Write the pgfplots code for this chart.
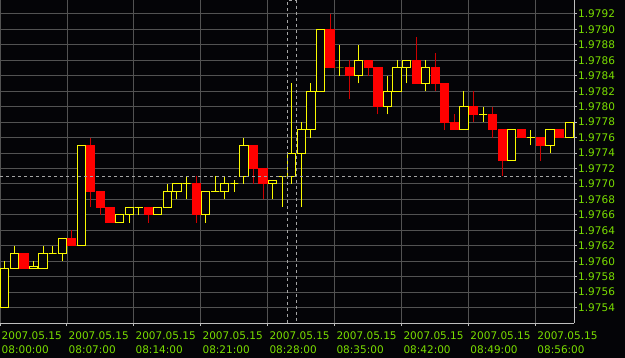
\documentclass[border=0pt]{standalone}
\usepackage{pgfplots}
\pgfplotsset{compat=1.18}
\usepackage{fontspec}
\setmainfont{DejaVu Sans}
\definecolor{cup}{RGB}{250,250,0}
\definecolor{cdn}{RGB}{255,0,0}
\definecolor{cwick}{RGB}{205,0,0}
\definecolor{gridgray}{RGB}{82,82,82}
\definecolor{axisgray}{RGB}{190,190,190}
\definecolor{lblgreen}{RGB}{122,222,0}
\definecolor{crossgray}{RGB}{165,165,165}
\definecolor{bg}{RGB}{4,4,7}
% #1 x, #2 open, #3 high, #4 low, #5 close
\newcommand\cu[5]{%
  \pgfmathsetmacro\xa{#1-0.43}\pgfmathsetmacro\xb{#1+0.43}%
  \edef\tmp{\noexpand\addplot[draw=cup, line width=1bp] coordinates {(#1,#4) (#1,#3)};%
    \noexpand\addplot[draw=cup, fill=bg, line width=1bp] coordinates {(\xa,#2) (\xb,#2) (\xb,#5) (\xa,#5)} -- cycle;}%
  \tmp}
\newcommand\cd[5]{%
  \pgfmathsetmacro\xa{#1-0.43}\pgfmathsetmacro\xb{#1+0.43}%
  \edef\tmp{\noexpand\addplot[draw=cwick, line width=1bp] coordinates {(#1,#4) (#1,#3)};%
    \noexpand\addplot[draw=cdn, fill=cdn, line width=1bp] coordinates {(\xa,#2) (\xb,#2) (\xb,#5) (\xa,#5)} -- cycle;}%
  \tmp}
\begin{document}
\begin{tikzpicture}
\fill[bg] (0bp,-35bp) rectangle (625bp,323bp);
\useasboundingbox (0bp,-35bp) rectangle (625bp,323bp);
\begin{axis}[
  at={(0bp,0bp)}, anchor=south west,
  scale only axis, width=574bp, height=323bp,
  xmin=-0.5, xmax=59.5, ymin=1.97520, ymax=1.97938,
  axis x line*=bottom, axis y line*=right,
  axis line style={draw=axisgray, line width=1bp},
  xtick={-0.5,6.5,13.5,20.5,27.5,34.5,41.5,48.5,55.5},
  xticklabels={{2007.05.15\\08:00:00},{2007.05.15\\08:07:00},{2007.05.15\\08:14:00},{2007.05.15\\08:21:00},{2007.05.15\\08:28:00},{2007.05.15\\08:35:00},{2007.05.15\\08:42:00},{2007.05.15\\08:49:00},{2007.05.15\\08:56:00}},
  ytick={1.9754,1.9756,1.9758,1.9760,1.9762,1.9764,1.9766,1.9768,1.9770,1.9772,1.9774,1.9776,1.9778,1.9780,1.9782,1.9784,1.9786,1.9788,1.9790,1.9792},
  yticklabels={1.9754,1.9756,1.9758,1.9760,1.9762,1.9764,1.9766,1.9768,1.9770,1.9772,1.9774,1.9776,1.9778,1.9780,1.9782,1.9784,1.9786,1.9788,1.9790,1.9792},
  tick align=outside, major tick length=3bp,
  tick style={draw=axisgray, line width=1bp},
  grid=major, major grid style={draw=gridgray, line width=0.9bp},
  ticklabel style={font=\fontsize{10.5bp}{13.3bp}\selectfont, text=lblgreen},
  xticklabel style={anchor=north west, align=left, inner sep=0pt, xshift=1.5bp, yshift=-6bp},
  yticklabel style={anchor=west, inner sep=0pt, xshift=1bp},
  clip=true,
]
\cu{0}{1.9754}{1.9760}{1.9754}{1.9759}
\cu{1}{1.9759}{1.9762}{1.9759}{1.9761}
\cd{2}{1.9761}{1.9761}{1.9759}{1.9759}
\cu{3}{1.9759}{1.9760}{1.9759}{1.97593}
\cu{4}{1.9759}{1.9762}{1.9759}{1.9761}
\cu{5}{1.9761}{1.9762}{1.9761}{1.9761}
\cu{6}{1.9761}{1.9763}{1.9760}{1.9763}
\cd{7}{1.9763}{1.9764}{1.9762}{1.9762}
\cu{8}{1.9762}{1.9775}{1.9762}{1.9775}
\cd{9}{1.9775}{1.9776}{1.9767}{1.9769}
\cd{10}{1.9769}{1.9769}{1.9766}{1.9767}
\cd{11}{1.9767}{1.9767}{1.9765}{1.9765}
\cu{12}{1.9765}{1.9766}{1.9765}{1.9766}
\cu{13}{1.9766}{1.9767}{1.9765}{1.9767}
\cu{14}{1.9767}{1.9767}{1.9766}{1.9767}
\cd{15}{1.9767}{1.9767}{1.9765}{1.9766}
\cu{16}{1.9766}{1.9767}{1.9766}{1.9767}
\cu{17}{1.9767}{1.9770}{1.9767}{1.9769}
\cu{18}{1.9769}{1.9770}{1.9768}{1.9770}
\cu{19}{1.9770}{1.9771}{1.9768}{1.9770}
\cd{20}{1.9770}{1.9771}{1.9765}{1.9766}
\cu{21}{1.9766}{1.9769}{1.9765}{1.9769}
\cu{22}{1.9769}{1.9771}{1.9769}{1.9769}
\cu{23}{1.9769}{1.9771}{1.9768}{1.9770}
\cu{24}{1.9770}{1.97705}{1.9769}{1.9770}
\cu{25}{1.9771}{1.9776}{1.9770}{1.9775}
\cd{26}{1.9775}{1.9775}{1.9770}{1.9772}
\cd{27}{1.9772}{1.9772}{1.9768}{1.9770}
\cu{28}{1.9770}{1.97705}{1.9768}{1.97705}
\cu{29}{1.9771}{1.9771}{1.9767}{1.9771}
\cu{30}{1.9771}{1.9783}{1.9770}{1.9774}
\cu{31}{1.9774}{1.9778}{1.9767}{1.9777}
\cu{32}{1.9777}{1.9783}{1.9776}{1.9782}
\cu{33}{1.9782}{1.9790}{1.9782}{1.9790}
\cd{34}{1.9790}{1.9792}{1.9785}{1.9785}
\cu{35}{1.9785}{1.9788}{1.9784}{1.9785}
\cd{36}{1.9785}{1.9786}{1.9781}{1.9784}
\cu{37}{1.9784}{1.9788}{1.9783}{1.9786}
\cd{38}{1.9786}{1.9786}{1.9784}{1.9785}
\cd{39}{1.9785}{1.9785}{1.9779}{1.9780}
\cu{40}{1.9780}{1.9784}{1.9779}{1.9782}
\cu{41}{1.9782}{1.9786}{1.9782}{1.9785}
\cu{42}{1.9785}{1.9786}{1.9783}{1.9786}
\cd{43}{1.9786}{1.9789}{1.9783}{1.9783}
\cu{44}{1.9783}{1.9786}{1.9782}{1.9785}
\cd{45}{1.9785}{1.9787}{1.9782}{1.9783}
\cd{46}{1.9783}{1.9783}{1.9777}{1.9778}
\cd{47}{1.9778}{1.9779}{1.9777}{1.9777}
\cu{48}{1.9777}{1.9782}{1.9777}{1.9780}
\cd{49}{1.9780}{1.9782}{1.9778}{1.9779}
\cu{50}{1.9779}{1.9780}{1.9778}{1.9779}
\cd{51}{1.9779}{1.9780}{1.9776}{1.9777}
\cd{52}{1.9777}{1.9777}{1.9771}{1.9773}
\cu{53}{1.9773}{1.9777}{1.9773}{1.9777}
\cd{54}{1.9777}{1.9777}{1.9776}{1.9776}
\cu{55}{1.9776}{1.9777}{1.9775}{1.9776}
\cd{56}{1.9776}{1.9776}{1.9773}{1.9775}
\cu{57}{1.9775}{1.9777}{1.9774}{1.9777}
\cd{58}{1.9777}{1.9777}{1.9776}{1.9776}
\cu{59}{1.9776}{1.9778}{1.9776}{1.9778}
% crosshair
\addplot[draw=crossgray, line width=1bp, dash pattern=on 3bp off 3bp] coordinates {(-0.5,1.97709) (59.5,1.97709)};
\addplot[draw=crossgray, line width=1bp, dash pattern=on 3bp off 3bp] coordinates {(29.55,1.97520) (29.55,1.97937) (30.49,1.97937) (30.49,1.97520)};
\end{axis}
\end{tikzpicture}
\end{document}
